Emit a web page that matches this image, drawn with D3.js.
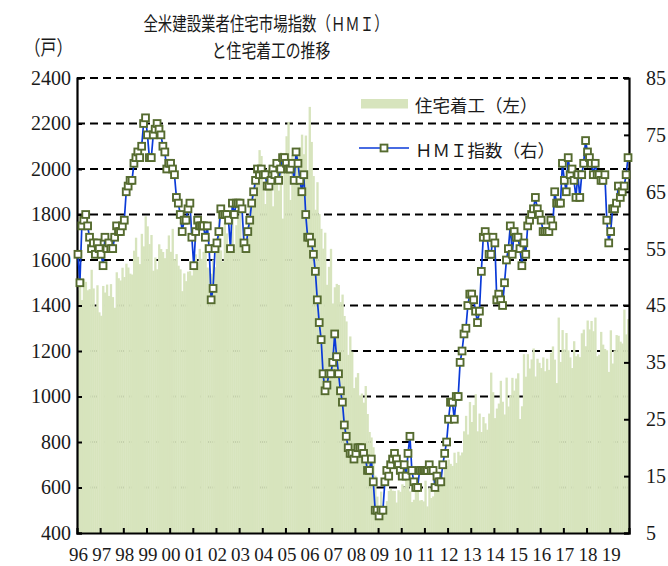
<!DOCTYPE html>
<html><head><meta charset="utf-8">
<script src="https://cdn.jsdelivr.net/npm/d3@7"></script>
<style>body{margin:0;background:#fff}</style>
</head><body>
<svg id="c" width="668" height="566"></svg>
<script>
// ---- data (monthly, Jan 1996 - Oct 2019) ----
const yearLabels = ["96","97","98","99","00","01","02","03","04","05","06","07","08","09","10","11","12","13","14","15","16","17","18","19"];
const leftTicks = [400,600,800,1000,1200,1400,1600,1800,2000,2200,2400];
const rightTicks = [5,15,25,35,45,55,65,75,85];
// housing starts (thousand units, SAAR) - left axis
const housingStarts = [
1467,1491,1424,1516,1504,1467,1472,1557,1475,1392,1489,1370,
1355,1486,1457,1492,1442,1494,1437,1390,1546,1520,1510,1566,
1525,1584,1567,1540,1536,1641,1698,1614,1582,1715,1660,1792,
1748,1670,1710,1553,1611,1559,1669,1648,1635,1608,1648,1708,
1636,1737,1604,1626,1575,1559,1463,1541,1507,1549,1551,1532,
1600,1625,1590,1649,1605,1636,1670,1567,1562,1540,1602,1568,
1698,1829,1642,1592,1764,1717,1655,1633,1804,1648,1753,1788,
1853,1629,1726,1643,1751,1867,1897,1833,1939,1967,2083,2057,
1911,1846,1998,2003,1981,1836,2024,2000,1905,2072,1782,2042,
2144,2207,1864,2061,2025,2068,2054,2095,2151,2065,2147,1994,
2273,2119,1969,1821,1942,1802,1737,1650,1720,1491,1570,1649,
1409,1480,1495,1490,1415,1448,1354,1330,1183,1264,1197,1037,
1084,1103,1005,1013,973,1046,923,844,820,777,652,560,
490,582,505,478,540,585,594,586,585,534,588,581,
614,604,636,687,583,536,546,599,594,543,545,539,
630,517,600,554,561,608,623,585,650,610,711,694,
723,704,695,753,708,757,741,754,847,915,833,976,
888,962,1010,847,925,844,910,882,854,925,1105,1019,
905,947,969,1069,977,921,1083,956,1006,1082,1026,1079,
1102,901,957,1186,1087,1186,1123,1163,1211,1088,1166,1148,
1125,1172,1111,1166,1117,1191,1220,1162,1059,1347,1152,1292,
1207,1279,1203,1172,1125,1243,1177,1186,1173,1278,1294,1221,
1334,1295,1332,1287,1347,1177,1184,1284,1228,1209,1203,1108,
1291,1145,1203,1270,1267,1241,1233,1382,1273,1340
];
// NAHB housing market index - right axis
const hmi = [
54,49,59,60,61,59,57,55,56,54,56,55,
54,52,57,55,56,55,55,57,59,58,58,59,
60,65,66,67,67,70,71,72,71,73,77,78,
75,71,71,75,76,77,76,75,73,72,69,70,
70,69,68,64,63,61,58,60,60,62,63,57,
52,58,60,59,59,59,57,59,55,46,48,55,
56,58,62,61,61,61,60,55,63,61,63,63,
63,62,56,55,58,60,63,65,67,69,68,69,
68,68,66,66,67,69,68,70,67,69,71,71,
70,69,69,70,67,72,70,67,65,68,61,57,
57,56,54,51,46,42,39,33,30,31,33,33,
35,40,36,33,30,28,24,22,20,19,19,18,
19,20,20,20,19,18,16,16,18,14,9,9,
8,9,9,14,16,15,17,18,19,18,17,16,
15,17,15,19,22,16,14,13,13,16,16,16,
16,16,17,16,16,13,15,14,14,17,19,21,
25,28,28,25,29,29,35,37,40,41,45,47,
47,46,44,42,44,51,57,58,57,54,54,57,
56,46,47,46,45,49,53,55,59,54,58,57,
57,55,52,56,54,59,60,61,62,64,62,61,
60,58,58,58,58,60,59,65,63,63,63,70,
67,65,71,68,69,67,64,68,64,68,70,74,
72,71,70,68,70,68,68,67,67,68,60,56,
58,62,62,63,66,64,65,66,68,71
];
const titleLines = ["全米建設業者住宅市場指数（ＨＭＩ）","と住宅着工の推移"];
const unitLabel = "（戸）";
const legendLabels = ["住宅着工（左）","ＨＭＩ指数（右）"];

// ---- drawing ----
const svg = d3.select("#c");
const M = {l:77, r:629, t:78, b:533};
const n = hmi.length;
const x = d3.scaleBand().domain(d3.range(n)).range([M.l, M.r]).padding(0);
const xm = d3.scaleLinear().domain([0, n]).range([M.l, M.r]);
const yL = d3.scaleLinear().domain([400, 2400]).range([M.b, M.t]);
const yR = d3.scaleLinear().domain([5, 85]).range([M.b, M.t]);
const bw = x.bandwidth();
const NUM = "'Liberation Serif','Times New Roman',serif";
const CJK = "'Noto Sans CJK JP','Noto Sans CJK SC',sans-serif";
const barColor = "#d7e4bd";
const txt = "#1a1a1a";

// gridlines
svg.append("g").selectAll("line").data(leftTicks.filter(v => v > 400)).join("line")
  .attr("x1", M.l).attr("x2", M.r)
  .attr("y1", d => yL(d)).attr("y2", d => yL(d))
  .attr("stroke", "#000").attr("stroke-width", 2).attr("stroke-dasharray", "8,5");

// bars
svg.append("g").selectAll("rect").data(housingStarts).join("rect")
  .attr("x", (d, i) => x(i)).attr("width", bw + 0.4)
  .attr("y", d => yL(d)).attr("height", d => yL(400) - yL(d))
  .attr("fill", barColor);

// axes
const axL = svg.append("g").attr("transform", `translate(${M.l},0)`)
  .call(d3.axisLeft(yL).tickValues(leftTicks).tickSize(-5).tickPadding(7).tickFormat(d3.format("d")));
const axR = svg.append("g").attr("transform", `translate(${M.r},0)`)
  .call(d3.axisRight(yR).tickValues(rightTicks).tickSize(-5).tickPadding(18).tickFormat(d3.format("d")));
const axB = svg.append("g").attr("transform", `translate(0,${M.b})`)
  .call(d3.axisBottom(xm).tickValues(d3.range(12, n, 12)).tickSize(-5).tickFormat(""));
const axBL = svg.append("g").attr("transform", `translate(0,${M.b})`)
  .call(d3.axisBottom(xm).tickValues(d3.range(0, n, 12).map(v => v + 0.5)).tickSize(0).tickPadding(15)
    .tickFormat((d, i) => yearLabels[i]));
axBL.select(".domain").remove();
[axL, axR, axB].forEach(a => {
  a.select(".domain").attr("stroke", "#000").attr("stroke-width", 2.2);
  a.selectAll(".tick line").attr("stroke", "#000").attr("stroke-width", 2);
});
[axL, axR].forEach(a => a.selectAll("text").attr("font-family", NUM).attr("font-size", 20).attr("fill", txt));
axBL.selectAll("text").attr("font-family", NUM).attr("font-size", 19).attr("fill", txt);
axR.selectAll(".tick text").attr("x", 17);
axL.selectAll(".tick text").attr("x", -6);

// HMI line + markers
const line = d3.line().x((d, i) => x(i) + bw / 2).y(d => yR(d));
svg.append("path").datum(hmi).attr("d", line)
  .attr("fill", "none").attr("stroke", "#0a3ad8").attr("stroke-width", 1.7);
svg.append("g").selectAll("rect").data(hmi).join("rect")
  .attr("x", (d, i) => x(i) + bw / 2 - 3.4).attr("y", d => yR(d) - 3.4)
  .attr("width", 6.8).attr("height", 6.8)
  .attr("fill", "#fff").attr("stroke", "#556b2f").attr("stroke-width", 1.9);

// titles
svg.append("text").attr("transform", "translate(266,31) scale(0.76,1)")
  .attr("text-anchor", "middle").attr("font-family", CJK).attr("font-size", 19).attr("fill", txt)
  .text(titleLines[0]);
svg.append("text").attr("transform", "translate(271,58) scale(0.78,1)")
  .attr("text-anchor", "middle").attr("font-family", CJK).attr("font-size", 19).attr("fill", txt)
  .text(titleLines[1]);
svg.append("text").attr("transform", "translate(48.5,55) scale(0.8,1)")
  .attr("text-anchor", "middle").attr("font-family", CJK).attr("font-size", 20).attr("fill", txt)
  .text(unitLabel);

// legend
svg.append("rect").attr("x", 361).attr("y", 99).attr("width", 47).attr("height", 9.5).attr("fill", barColor);
svg.append("text").attr("x", 415).attr("y", 112).attr("font-family", CJK).attr("font-size", 17.5).attr("fill", txt).text(legendLabels[0]);
svg.append("line").attr("x1", 359).attr("x2", 409).attr("y1", 148).attr("y2", 148).attr("stroke", "#0a3ad8").attr("stroke-width", 1.7);
svg.append("rect").attr("x", 384 - 3.4).attr("y", 148 - 3.4).attr("width", 6.8).attr("height", 6.8)
  .attr("fill", "#fff").attr("stroke", "#556b2f").attr("stroke-width", 1.9);
svg.append("text").attr("x", 415).attr("y", 157).attr("font-family", CJK).attr("font-size", 17.5).attr("fill", txt).text(legendLabels[1]);
</script>
</body></html>
